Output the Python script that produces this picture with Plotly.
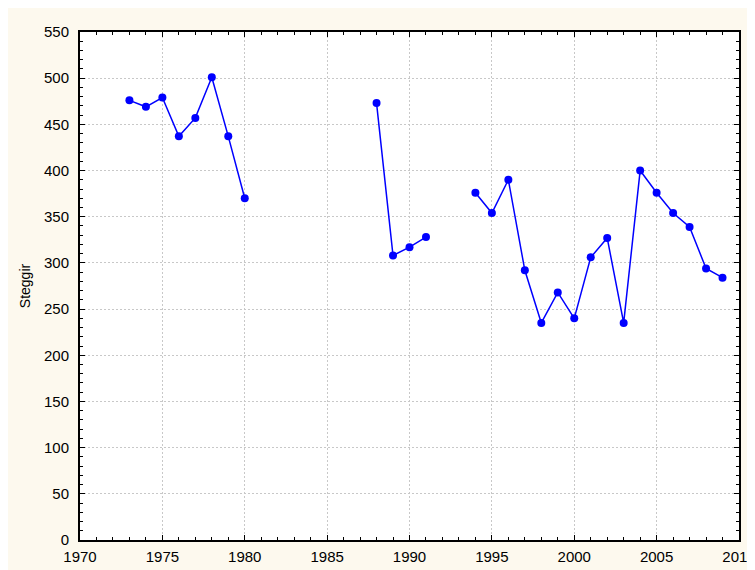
import plotly.graph_objects as go

years = list(range(1973, 2010))
steggir = [476, 469, 479, 437, 457, 501, 437, 370,
           None, None, None, None, None, None, None,
           473, 308, 317, 328,
           None, None,
           376, 354, 390, 292, 235, 268, 240, 306, 327, 235, 400, 376, 354, 339, 294, 284]

x_ticks = [1970, 1975, 1980, 1985, 1990, 1995, 2000, 2005, 2010]
y_ticks = [0, 50, 100, 150, 200, 250, 300, 350, 400, 450, 500, 550]

W, H = 755, 570
L, T = 72, 24
PW, PH = 659, 508
R, B = W - L - PW, H - T - PH

fig = go.Figure()
fig.add_trace(go.Scatter(
    x=years, y=steggir, mode="lines+markers",
    line=dict(color="#0000FF", width=1.5),
    marker=dict(color="#0000FF", size=8),
    connectgaps=False, showlegend=False,
))

font = dict(family="Liberation Sans, Arial, sans-serif", size=15, color="black")

fig.update_layout(
    width=W, height=H,
    margin=dict(l=L, r=R, t=T, b=B),
    paper_bgcolor="#FDF9EE", plot_bgcolor="white",
    font=font,
    xaxis=dict(
        range=[1970, 2010], tickvals=x_ticks, ticktext=[str(v) for v in x_ticks],
        showline=True, linecolor="black", linewidth=2, mirror="ticks",
        ticks="inside", ticklen=5, tickwidth=1, tickcolor="black",
        showgrid=True, gridcolor="#c8c8c8", griddash="2px,2px", gridwidth=1,
        zeroline=False, tickfont=font, automargin=False, ticklabelstandoff=2,
        minor=dict(dtick=1, tick0=1970, ticks="inside", ticklen=3, tickcolor="black", showgrid=False),
    ),
    yaxis=dict(
        range=[0, 550], tickvals=y_ticks, ticktext=[str(v) for v in y_ticks],
        showline=True, linecolor="black", linewidth=2, mirror="ticks",
        ticks="inside", ticklen=5, tickwidth=1, tickcolor="black",
        showgrid=True, gridcolor="#c8c8c8", griddash="2px,2px", gridwidth=1,
        zeroline=False, tickfont=font, automargin=False, ticklabelstandoff=6,
        minor=dict(dtick=10, tick0=0, ticks="inside", ticklen=3, tickcolor="black", showgrid=False),
        title=dict(text="Steggir", font=dict(family="Liberation Sans, Arial, sans-serif", size=14, color="black"), standoff=10),
    ),
)

fig.write_html("out.html")
